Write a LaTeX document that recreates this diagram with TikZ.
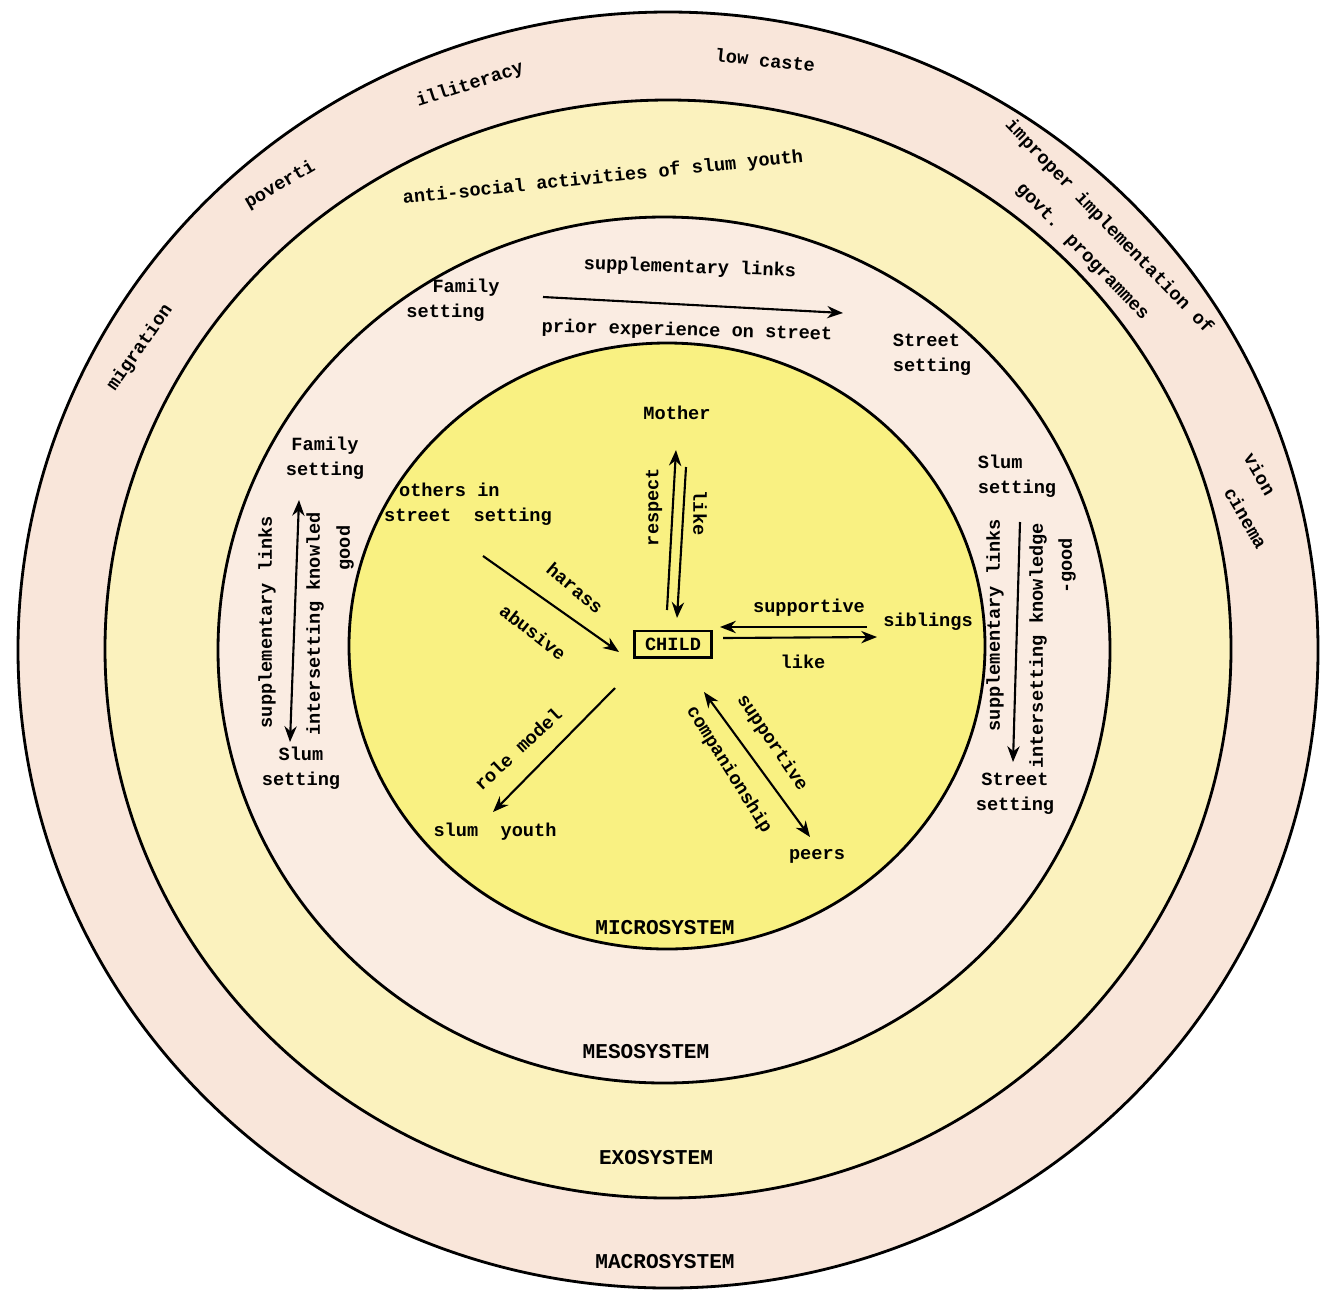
\documentclass[tikz,border=0pt]{standalone}
\usepackage{fontspec}
\setmainfont{Liberation Mono}
\usetikzlibrary{arrows.meta}

\definecolor{macrofill}{RGB}{249,230,218}
\definecolor{exofill}{RGB}{251,242,190}
\definecolor{mesofill}{RGB}{250,236,226}
\definecolor{microfill}{RGB}{249,241,130}

\begin{document}
\begin{tikzpicture}[x=0.02cm,y=-0.02cm,
  ring/.style={line width=1.6pt},
  lbl/.style={font=\fontsize{10.6}{14}\selectfont\bfseries,inner sep=1pt},
  sys/.style={font=\fontsize{12}{14}\selectfont\bfseries,inner sep=1pt},
  arr/.style={line width=1.2pt,-{Stealth[length=9pt,width=7pt]}},
  darr/.style={line width=1.2pt,{Stealth[length=9pt,width=7pt]}-{Stealth[length=9pt,width=7pt]}}]
\useasboundingbox (0,0) rectangle (1325,1292);
% the four systems, outside in
\filldraw[ring,fill=macrofill] (668,650) ellipse [x radius=650,y radius=638];
\filldraw[ring,fill=exofill] (668,649) ellipse [x radius=563,y radius=549];
\filldraw[ring,fill=mesofill] (664,650) ellipse [x radius=446,y radius=433];
\filldraw[ring,fill=microfill] (667,646) ellipse [x radius=318,y radius=303];

\node[sys] (micro) at (665,928) {MICROSYSTEM};
\node[sys] (meso) at (646,1052) {MESOSYSTEM};
\node[sys] (exo) at (656,1158) {EXOSYSTEM};
\node[sys] (macro) at (665,1262) {MACROSYSTEM};

% macrosystem
\node[lbl,rotate=55] (migr) at (140,348) {migration};
\node[lbl,rotate=30] (pov) at (280,185) {poverti};
\node[lbl,rotate=18] (illit) at (470,85) {illiteracy};
\node[lbl,rotate=-6] (caste) at (765,60) {low caste};
\node[lbl,rotate=-46] (improper) at (1109,227) {improper implementation of};
\node[lbl,rotate=-46] (govt) at (1082,252) {govt. programmes};
\node[lbl,rotate=-60] (vion) at (1260,474) {vion};
\node[lbl,rotate=-60] (cinema) at (1246,518) {cinema};

% exosystem
\node[lbl,rotate=6] (antisoc) at (603,178) {anti-social activities of slum youth};

% mesosystem
\node[lbl,rotate=-2] (suptop) at (690,268) {supplementary links};
\node[lbl,align=left] (famtop) at (453,300) {\hspace*{1.4em}Family\\setting};
\node[lbl,rotate=-1.5] (prior) at (687,331) {prior experience on street};
\node[lbl,align=left] (strtop) at (932,355) {Street\\setting};
\coordinate (linka) at (543,297);
\coordinate (linkb) at (843,313);
\draw[arr] (linka) -- (linkb);

\node[lbl,align=center] (famleft) at (325,458) {Family\\setting};
\node[lbl,align=center] (slumleft) at (301,768) {Slum\\setting};
\node[lbl,rotate=90] (supleft) at (267,622) {supplementary links};
\node[lbl,rotate=90] (interleft) at (315,624) {intersetting knowled};
\node[lbl,rotate=90] (goodleft) at (345,548) {good};
\coordinate (lefta) at (299,500);
\coordinate (leftb) at (290,742);
\draw[darr] (lefta) -- (leftb);

\node[lbl,align=left] (slumright) at (1017,476) {Slum\\setting};
\node[lbl,align=center] (strright) at (1015,794) {Street\\setting};
\node[lbl,rotate=90] (supright) at (995,625) {supplementary links};
\node[lbl,rotate=90] (interright) at (1038,646) {intersetting knowledge};
\node[lbl,rotate=90] (goodright) at (1067,566) {-good};
\coordinate (righta) at (1020,522);
\coordinate (rightb) at (1013,762);
\draw[arr] (righta) -- (rightb);

% microsystem
\node[lbl,draw,line width=1.3pt,inner xsep=6pt,inner ysep=4pt] (child) at (673,644) {CHILD};
\node[lbl] (mother) at (677,413) {Mother};
\node[lbl] (sib) at (928,622) {siblings};
\node[lbl] (peers) at (817,856) {peers};
\node[lbl,align=left] (others) at (468,504) {\hspace*{0.8em}others in\\street\ \ setting};
\node[lbl] (slumyouth) at (495,832) {slum\ \ youth};

\coordinate (mo1) at (667,610);
\coordinate (mo2) at (676,450);
\coordinate (mo3) at (686,467);
\coordinate (mo4) at (677,618);
\draw[arr] (mo1) -- (mo2);
\draw[arr] (mo3) -- (mo4);
\node[lbl,rotate=90] (respect) at (654,507) {respect};
\node[lbl,rotate=-90] (likemo) at (700,513) {like};

\coordinate (sb1) at (867,627);
\coordinate (sb2) at (720,627);
\coordinate (sb3) at (723,638);
\coordinate (sb4) at (877,637);
\draw[arr] (sb1) -- (sb2);
\draw[arr] (sb3) -- (sb4);
\node[lbl] (supsib) at (809,608) {supportive};
\node[lbl] (likesib) at (803,662) {like};

\coordinate (pe1) at (704,692);
\coordinate (pe2) at (810,837);
\draw[darr] (pe1) -- (pe2);
\node[lbl,rotate=-56] (suppeer) at (772,743) {supportive};
\node[lbl,rotate=-58] (comp) at (729,770) {companionship};

\coordinate (ot1) at (483,556);
\coordinate (ot2) at (619,652);
\draw[arr] (ot1) -- (ot2);
\node[lbl,rotate=-40] (harass) at (575,588) {harass};
\node[lbl,rotate=-38] (abusive) at (533,632) {abusive};

\coordinate (sy1) at (615,688);
\coordinate (sy2) at (493,812);
\draw[arr] (sy1) -- (sy2);
\node[lbl,rotate=43] (role) at (518,749) {role model};
\end{tikzpicture}
\end{document}
